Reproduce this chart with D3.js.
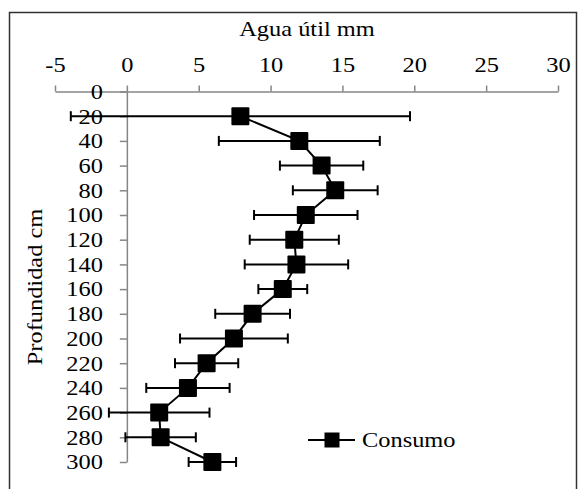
<!DOCTYPE html>
<html>
<head>
<meta charset="utf-8">
<script src="https://cdn.jsdelivr.net/npm/d3@7.9.0/dist/d3.min.js"></script>
<style>
  body { margin: 0; background: #fff; }
</style>
</head>
<body>
<svg id="chart" width="579" height="489"></svg>
<script>
// depth (cm) on the vertical axis, water (mm) on the horizontal
const depths = [20, 40, 60, 80, 100, 120, 140, 160, 180, 200, 220, 240, 260, 280, 300];
const consumo = [7.9, 12.0, 13.55, 14.5, 12.45, 11.65, 11.8, 10.85, 8.75, 7.45, 5.55, 4.25, 2.25, 2.35, 5.95];
const errores = [11.8, 5.6, 2.9, 2.95, 3.6, 3.1, 3.6, 1.7, 2.6, 3.75, 2.2, 2.9, 3.5, 2.45, 1.65];
const xTicks = [-5, 0, 5, 10, 15, 20, 25, 30];
const yTicks = d3.range(0, 301, 20);

const FONT = 'Liberation Serif';
const SX = 1.22; // horizontal stretch of the text, like the source picture
const data = depths.map((d, i) => ({ depth: d, value: consumo[i], err: errores[i] }));

const svg = d3.select('#chart');

// outer frame
svg.append('rect')
  .attr('x', 9.5).attr('y', 12.5)
  .attr('width', 567).attr('height', 490)
  .attr('fill', 'none')
  .attr('stroke', '#333')
  .attr('stroke-width', 1.5);

const x = d3.scaleLinear().domain([-5, 30]).range([55, 558]);
const y = d3.scaleLinear().domain([0, 300]).range([91.5, 462]);

const axisColor = '#868686';

// x axis on top, ticks pointing up
const gx = svg.append('g')
  .attr('transform', `translate(0,${y(0)})`)
  .call(d3.axisTop(x).tickValues(xTicks).tickFormat(d => String(d)).tickSize(6).tickSizeOuter(0))
  .attr('font-family', FONT);
gx.select('.domain').attr('stroke', axisColor).attr('stroke-width', 1.5);
gx.selectAll('.tick line').attr('stroke', axisColor).attr('stroke-width', 1.5);
gx.selectAll('.tick text')
  .attr('y', -20)
  .attr('transform', `scale(${SX},1)`)
  .attr('font-family', FONT)
  .attr('font-size', 20)
  .attr('fill', '#000');

// y axis at x = 0
const gy = svg.append('g')
  .attr('transform', `translate(${x(0)},0)`)
  .call(d3.axisLeft(y).tickValues(yTicks).tickSize(7).tickPadding(17).tickSizeOuter(0))
  .attr('font-family', FONT);
gy.select('.domain').attr('stroke', axisColor).attr('stroke-width', 1.5);
gy.selectAll('.tick line').attr('stroke', axisColor).attr('stroke-width', 1.5);
gy.selectAll('.tick text')
  .attr('x', -24 / SX)
  .attr('dy', '0.34em')
  .attr('transform', `scale(${SX},1)`)
  .attr('font-family', FONT)
  .attr('font-size', 20)
  .attr('fill', '#000');

// axis titles
svg.append('text')
  .attr('transform', `translate(307,36) scale(${SX},1)`)
  .attr('text-anchor', 'middle')
  .attr('font-family', FONT)
  .attr('font-size', 20)
  .text('Agua útil mm');

svg.append('text')
  .attr('transform', `translate(42,287) rotate(-90) scale(${SX},1)`)
  .attr('text-anchor', 'middle')
  .attr('font-family', FONT)
  .attr('font-size', 20)
  .text('Profundidad cm');

// error bars
const eb = svg.append('g').attr('stroke', '#000').attr('stroke-width', 2);
data.forEach(d => {
  const yy = y(d.depth);
  eb.append('line')
    .attr('x1', x(d.value - d.err)).attr('x2', x(d.value + d.err))
    .attr('y1', yy).attr('y2', yy);
  [d.value - d.err, d.value + d.err].forEach(v => {
    eb.append('line')
      .attr('x1', x(v)).attr('x2', x(v))
      .attr('y1', yy - 5).attr('y2', yy + 5);
  });
});

// connecting line
const line = d3.line().x(d => x(d.value)).y(d => y(d.depth));
svg.append('path')
  .datum(data)
  .attr('d', line)
  .attr('fill', 'none')
  .attr('stroke', '#000')
  .attr('stroke-width', 2);

// square markers
const size = 18;
svg.selectAll('rect.pt')
  .data(data)
  .join('rect')
  .attr('class', 'pt')
  .attr('x', d => x(d.value) - size / 2)
  .attr('y', d => y(d.depth) - size / 2)
  .attr('width', size).attr('height', size)
  .attr('rx', 1)
  .attr('fill', '#000');

// legend
const lg = svg.append('g').attr('transform', 'translate(308,440)');
lg.append('line')
  .attr('x1', 0).attr('x2', 47)
  .attr('y1', 0).attr('y2', 0)
  .attr('stroke', '#000').attr('stroke-width', 2);
lg.append('rect')
  .attr('x', 24 - 7.5).attr('y', -7.5)
  .attr('width', 15).attr('height', 15)
  .attr('fill', '#000');
lg.append('text')
  .attr('transform', `translate(54,7) scale(${SX},1)`)
  .attr('font-family', FONT)
  .attr('font-size', 20)
  .text('Consumo');
</script>
</body>
</html>
